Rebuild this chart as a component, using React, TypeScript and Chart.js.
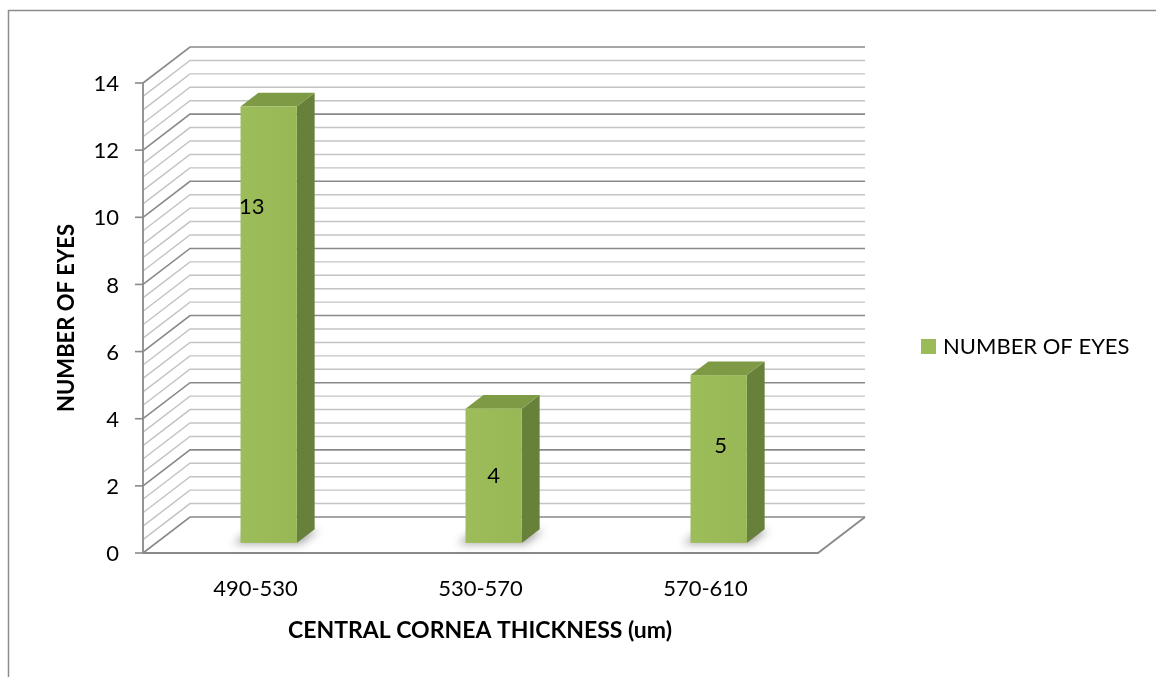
import React, { useEffect, useRef } from "react";
import { Chart, registerables } from "chart.js";

Chart.register(...registerables);

// ---------- data ----------
const categories = ["490-530", "530-570", "570-610"];
const seriesName = "NUMBER OF EYES";
const values = [13, 4, 5];
const yTickValues = [0, 2, 4, 6, 8, 10, 12, 14];
const xTitle = "CENTRAL CORNEA THICKNESS (um)";
const yTitle = "NUMBER OF EYES";

// ---------- style ----------
const W = 1156;
const H = 677;
const FONT = "Lato, 'Open Sans', sans-serif";
const WALL_DX = 47;
const WALL_DY = -36;
const BAR_FRONT = 0.28;
const BAR_BACK = 0.66;
const MINOR_STEP = 0.4;
const MAJOR_EVERY = 5;
const GRID_MAJOR = "#898989";
const GRID_MINOR = "#c3c3c3";
const BAR_FRONT_COLOR = "#9bbb59";
const BAR_SIDE_COLOR = "#67803a";
const BAR_TOP_COLOR = "#7e9a45";
const LABEL_DX = [-17, 0, 2];
const LABEL_FRAC = [0.77, 0.5, 0.58];

const threeD = {
  id: "threeD",
  beforeDatasetsDraw(chart: any) {
    const ctx = chart.ctx;
    const y = chart.scales.y;
    const ca = chart.chartArea;
    ctx.save();
    // outer border
    ctx.strokeStyle = "#8c8c8c";
    ctx.lineWidth = 1.5;
    ctx.beginPath();
    ctx.moveTo(8.5, H + 5);
    ctx.lineTo(8.5, 10.5);
    ctx.lineTo(W + 5, 10.5);
    ctx.stroke();

    const n = Math.round((y.max - y.min) / MINOR_STEP);
    for (let i = n; i >= 0; i--) {
      const v = y.min + i * MINOR_STEP;
      const py = y.getPixelForValue(v);
      const major = i % MAJOR_EVERY === 0;
      ctx.strokeStyle = major ? GRID_MAJOR : GRID_MINOR;
      ctx.lineWidth = major ? 1.6 : 1.4;
      ctx.beginPath();
      ctx.moveTo(ca.left, py);
      ctx.lineTo(ca.left + WALL_DX, py + WALL_DY);
      ctx.lineTo(ca.right + WALL_DX, py + WALL_DY);
      ctx.stroke();
    }
    // floor
    const p0 = y.getPixelForValue(0);
    ctx.strokeStyle = GRID_MAJOR;
    ctx.lineWidth = 1.8;
    ctx.beginPath();
    ctx.moveTo(ca.left, p0);
    ctx.lineTo(ca.right, p0);
    ctx.lineTo(ca.right + WALL_DX, p0 + WALL_DY);
    ctx.stroke();
    // front axis line
    ctx.beginPath();
    ctx.moveTo(ca.left, y.getPixelForValue(y.max));
    ctx.lineTo(ca.left, p0);
    ctx.stroke();
    // ticks + labels
    ctx.fillStyle = "#000";
    ctx.font = `22px ${FONT}`;
    ctx.textAlign = "right";
    ctx.textBaseline = "middle";
    yTickValues.forEach((v) => {
      const py = y.getPixelForValue(v);
      ctx.strokeStyle = GRID_MAJOR;
      ctx.lineWidth = 1.6;
      ctx.beginPath();
      ctx.moveTo(ca.left - 8, py);
      ctx.lineTo(ca.left, py);
      ctx.stroke();
      ctx.fillText(String(v), ca.left - 24, py + 1);
    });
    // x labels
    const x = chart.scales.x;
    ctx.textAlign = "center";
    categories.forEach((c, i) => {
      ctx.fillText(c, x.getPixelForValue(i), p0 + 36);
    });
    // titles
    ctx.font = `bold 23px ${FONT}`;
    ctx.fillText(xTitle, 480, 631);
    ctx.save();
    ctx.translate(67, 318);
    ctx.rotate(-Math.PI / 2);
    ctx.font = `bold 22px ${FONT}`;
    ctx.fillText(yTitle, 0, 0);
    ctx.restore();
    // legend
    ctx.fillStyle = BAR_FRONT_COLOR;
    ctx.fillRect(921, 339, 15, 15);
    ctx.fillStyle = "#000";
    ctx.font = `22px ${FONT}`;
    ctx.textAlign = "left";
    ctx.fillText(seriesName, 943, 347);
    ctx.restore();
  },
  afterDatasetsDraw(chart: any) {
    const ctx = chart.ctx;
    const meta = chart.getDatasetMeta(0);
    const fdx = WALL_DX * BAR_FRONT;
    const fdy = WALL_DY * BAR_FRONT;
    const ddx = WALL_DX * (BAR_BACK - BAR_FRONT);
    const ddy = WALL_DY * (BAR_BACK - BAR_FRONT);
    meta.data.forEach((el: any, i: number) => {
      const w = el.width;
      const x0 = el.x - w / 2 + fdx;
      const x1 = x0 + w;
      const top = el.y + fdy;
      const bot = el.base + fdy;
      ctx.save();
      // shadow on floor
      ctx.filter = "blur(4px)";
      ctx.fillStyle = "rgba(0,0,0,0.35)";
      ctx.beginPath();
      ctx.moveTo(x0 - 8, bot + 1);
      ctx.lineTo(x1 + 4, bot + 1);
      ctx.lineTo(x1 + ddx + 4, bot + ddy + 1);
      ctx.lineTo(x0 + ddx - 8, bot + ddy + 1);
      ctx.closePath();
      ctx.fill();
      ctx.filter = "none";
      // side
      ctx.fillStyle = BAR_SIDE_COLOR;
      ctx.beginPath();
      ctx.moveTo(x1, top);
      ctx.lineTo(x1 + ddx, top + ddy);
      ctx.lineTo(x1 + ddx, bot + ddy);
      ctx.lineTo(x1, bot);
      ctx.closePath();
      ctx.fill();
      // top
      ctx.fillStyle = BAR_TOP_COLOR;
      ctx.beginPath();
      ctx.moveTo(x0, top);
      ctx.lineTo(x0 + ddx, top + ddy);
      ctx.lineTo(x1 + ddx, top + ddy);
      ctx.lineTo(x1, top);
      ctx.closePath();
      ctx.fill();
      // front
      const g = ctx.createLinearGradient(x0, 0, x1, 0);
      g.addColorStop(0, "#9dbd5b");
      g.addColorStop(1, "#98b856");
      ctx.fillStyle = g;
      ctx.fillRect(x0, top, w, bot - top);
      // label
      ctx.fillStyle = "#000";
      ctx.font = `22px ${FONT}`;
      ctx.textAlign = "center";
      ctx.textBaseline = "middle";
      const ly = bot - (bot - top) * LABEL_FRAC[i];
      ctx.fillText(String(values[i]), (x0 + x1) / 2 + LABEL_DX[i], ly);
      ctx.restore();
    });
  },
};

export default function App() {
  const ref = useRef<HTMLCanvasElement | null>(null);
  useEffect(() => {
    if (!ref.current) return;
    const chart = new Chart(ref.current, {
      type: "bar",
      data: {
        labels: categories,
        datasets: [
          {
            label: seriesName,
            data: values,
            backgroundColor: "rgba(0,0,0,0)",
            borderWidth: 0,
            categoryPercentage: 1,
            barPercentage: 0.25,
          },
        ],
      },
      options: {
        responsive: false,
        animation: false,
        devicePixelRatio: 1,
        layout: { padding: { left: 143, right: W - 818, top: 83, bottom: H - 553 } },
        scales: {
          x: { type: "category", display: false, offset: true, grid: { display: false } },
          y: { min: 0, max: 14, display: false, ticks: { stepSize: 2 }, grid: { display: false } },
        },
        plugins: { legend: { display: false }, tooltip: { enabled: false }, title: { display: false } },
      },
      plugins: [threeD],
    });
    return () => chart.destroy();
  }, []);
  return (
    <div style={{ position: "fixed", left: 0, top: 0, width: W, height: H, background: "#fff" }}>
      <canvas ref={ref} width={W} height={H} style={{ display: "block", width: W, height: H }} />
    </div>
  );
}
